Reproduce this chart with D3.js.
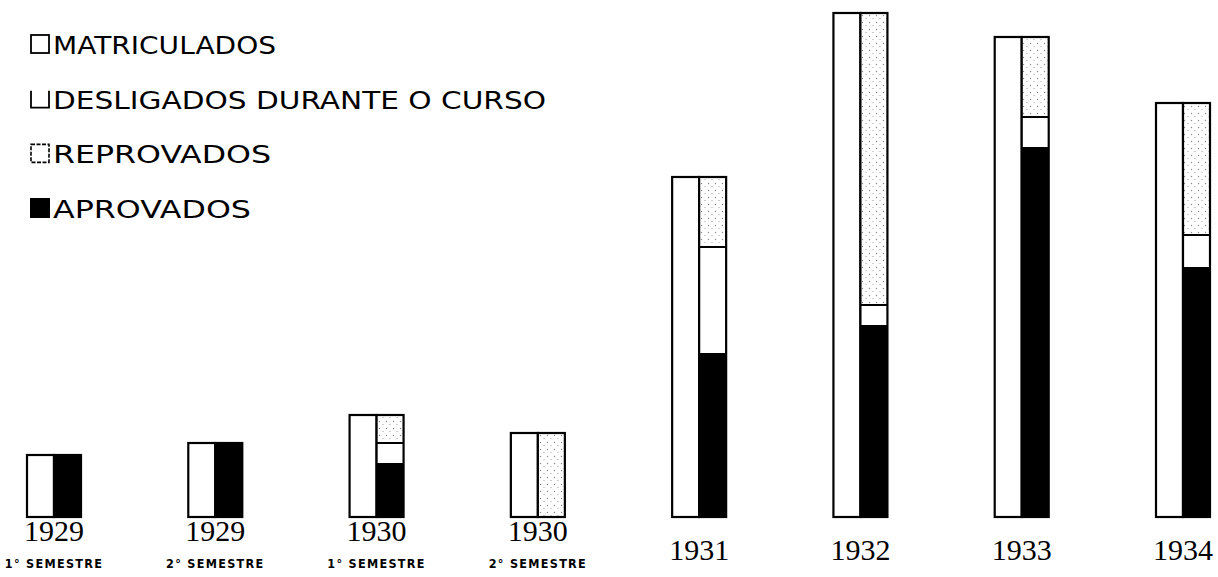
<!DOCTYPE html>
<html><head><meta charset="utf-8">
<script src="https://cdn.jsdelivr.net/npm/d3@7"></script>
<style>html,body{margin:0;padding:0;background:#fff;}svg{display:block;}</style>
</head><body>
<svg id="c" width="1218" height="577"></svg>
<script>
const categories = ["1929-1","1929-2","1930-1","1930-2","1931","1932","1933","1934"];
const yearLabels = ["1929","1929","1930","1930","1931","1932","1933","1934"];
const semesterLabels = ["1° SEMESTRE","2° SEMESTRE","1° SEMESTRE","2° SEMESTRE","","","",""];
const matriculados = [31, 37, 51, 42, 170, 252, 240, 207];
const aprovados    = [31, 37, 27,  0,  82,  96, 185, 125];
const reprovados   = [ 0,  0, 10,  0,  53,  10,  15,  16];
const desligados   = [ 0,  0, 14, 42,  35, 146,  40,  66];
const legendLabels = ["MATRICULADOS","DESLIGADOS DURANTE O CURSO","REPROVADOS","APROVADOS"];

const svg = d3.select("#c");
const defs = svg.append("defs");
const pat = defs.append("pattern").attr("id","dots").attr("patternUnits","userSpaceOnUse")
  .attr("width",7).attr("height",7);
pat.append("rect").attr("width",7).attr("height",7).attr("fill","#fff");
pat.append("circle").attr("cx",1.5).attr("cy",1.5).attr("r",0.7).attr("fill","#888");
pat.append("circle").attr("cx",5).attr("cy",4.5).attr("r",0.6).attr("fill","#999");

const baseline = 517;
const x = d3.scalePoint().domain(categories).range([54, 1183]);
const y = d3.scaleLinear().domain([0, 260]).range([baseline, baseline - 520]);
const hw = 27;

const data = categories.map((c,i)=>({c, i, m:matriculados[i], a:aprovados[i], r:reprovados[i], d:desligados[i]}));

const g = svg.append("g").selectAll("g").data(data).join("g");
g.append("rect")
  .attr("x", d=>x(d.c)-hw).attr("width", hw)
  .attr("y", d=>y(d.m)).attr("height", d=>y(0)-y(d.m))
  .attr("fill","#fff").attr("stroke","#000").attr("stroke-width",2.2);
const segs = d => {
  const out = [];
  let acc = 0;
  [["a",d.a,"#000"],["r",d.r,"#fff"],["d",d.d,"url(#dots)"]].forEach(([k,v,f])=>{
    if (v>0) out.push({c:d.c, k, y0:acc, y1:acc+v, fill:f});
    acc += v;
  });
  return out;
};
g.selectAll("rect.seg").data(segs).join("rect").attr("class","seg")
  .attr("x", s=>x(s.c)).attr("width", hw)
  .attr("y", s=>y(s.y1)).attr("height", s=>y(s.y0)-y(s.y1))
  .attr("fill", s=>s.fill);
g.filter(d=>d.d>0 && (d.a+d.r)>0).append("line")
  .attr("x1", d=>x(d.c)).attr("x2", d=>x(d.c)+hw)
  .attr("y1", d=>y(d.a+d.r)).attr("y2", d=>y(d.a+d.r))
  .attr("stroke","#000").attr("stroke-width",2);
g.append("rect")
  .attr("x", d=>x(d.c)).attr("width", hw)
  .attr("y", d=>y(d.m)).attr("height", d=>y(0)-y(d.m))
  .attr("fill","none").attr("stroke","#000").attr("stroke-width",2.2);

g.append("text")
  .attr("x", d=>x(d.c)).attr("y", d=> semesterLabels[d.i] ? 541 : 560)
  .attr("text-anchor","middle")
  .attr("font-family","Liberation Serif, DejaVu Serif, serif")
  .attr("font-size",30).attr("fill","#000")
  .text(d=>yearLabels[d.i]);
g.filter(d=>semesterLabels[d.i]).append("text")
  .attr("x", d=>x(d.c)).attr("y", 568)
  .attr("text-anchor","middle")
  .attr("font-family","DejaVu Sans Condensed, DejaVu Sans, sans-serif")
  .attr("font-weight","bold").attr("font-size",12.5).attr("letter-spacing",1.3)
  .attr("fill","#000")
  .text(d=>semesterLabels[d.i]);

const ly = d3.scalePoint().domain(legendLabels).range([44, 208]);
const lg = svg.append("g").selectAll("g").data(legendLabels).join("g")
  .attr("transform", d=>`translate(0,${ly(d)})`);
lg.each(function(d,i){
  const s = d3.select(this);
  if (i===0) s.append("rect").attr("x",31).attr("y",-9).attr("width",18).attr("height",18)
      .attr("fill","#fff").attr("stroke","#000").attr("stroke-width",1.8);
  if (i===1) s.append("path").attr("d","M31,-8 V9 H49 V-8")
      .attr("fill","none").attr("stroke","#000").attr("stroke-width",1.8);
  if (i===2) s.append("rect").attr("x",31).attr("y",-9).attr("width",18).attr("height",18)
      .attr("fill","#fff").attr("stroke","#000").attr("stroke-width",1.6).attr("stroke-dasharray","4,1.5");
  if (i===3) s.append("rect").attr("x",30).attr("y",-10).attr("width",20).attr("height",20)
      .attr("fill","#000");
});
const lw = [223, 493, 218, 198];
lg.append("text").attr("x",53).attr("y",10)
  .attr("font-family","DejaVu Sans, sans-serif").attr("font-size",25)
  .attr("textLength",(d,i)=>lw[i]).attr("lengthAdjust","spacingAndGlyphs")
  .attr("fill","#000").text(d=>d);
</script>
</body></html>
